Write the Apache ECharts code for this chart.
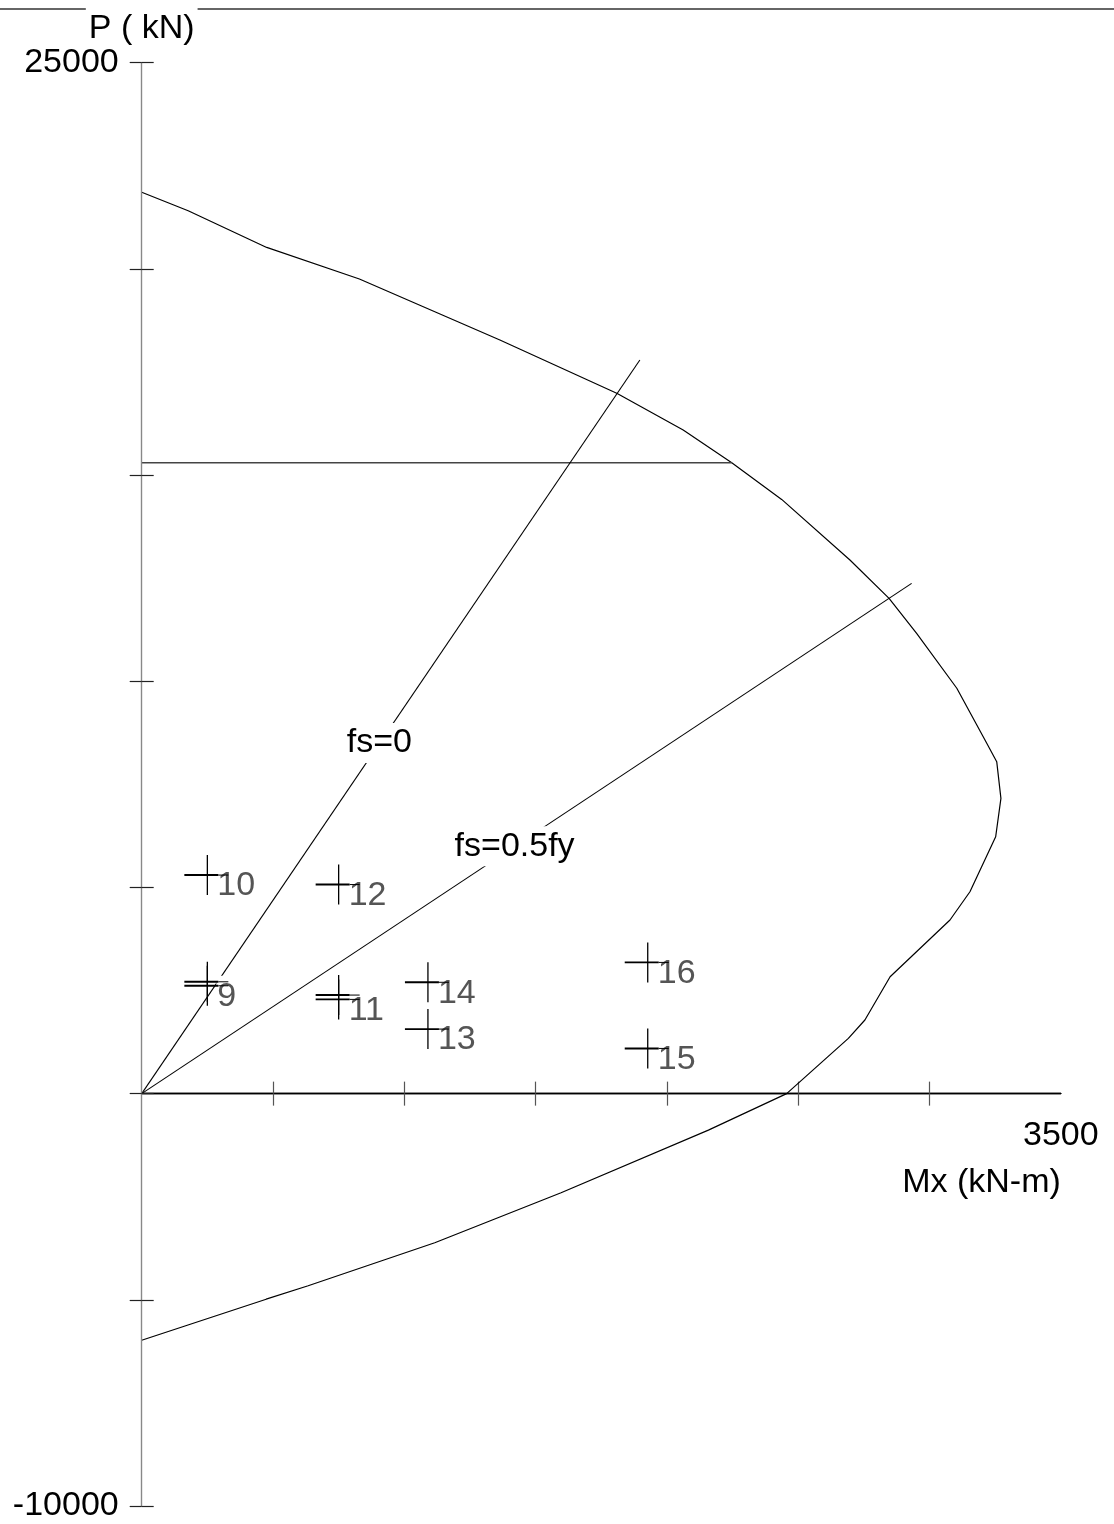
<!DOCTYPE html>
<html>
<head>
<meta charset="utf-8">
<script src="https://cdn.jsdelivr.net/npm/echarts@6/dist/echarts.min.js"></script>
<style>
  html, body { margin: 0; padding: 0; background: #fff; }
  #chart { width: 1114px; height: 1524px; }
</style>
</head>
<body>
<div id="chart"></div>
<script>
// Column P-M interaction diagram: axial load P (kN) against moment Mx (kN-m)

const curveM = [0, 177, 476, 829, 1364, 1809, 2062, 2247, 2437, 2697, 2846, 2951, 3104, 3218, 3256, 3272, 3252, 3154, 3078, 2850, 2754, 2691, 2456, 2158, 1597, 1116, 634, 474, 0];
const curveP = [21860, 21410, 20520, 19755, 18275, 16985, 16095, 15300, 14410, 12940, 12010, 11160, 9830, 8495, 8050, 7160, 6230, 4895, 4210, 2835, 1785, 1340, 0, -885, -2405, -3615, -4660, -4985, -5980];

// Maximum axial load cut-off
const capM = [0, 2247];
const capP = [15300, 15300];

// Steel stress reference lines
const fs0M = [0, 1897];
const fs0P = [0, 17790];
const fsHalfM = [0, 2932];
const fsHalfP = [0, 12374];
const fsLabels = ['fs=0', 'fs=0.5fy'];
const fsLabelM = [905, 1420];
const fsLabelP = [8500, 6000];

// Load combinations (blank name = second case sharing the same label)
const loadNames = ['9', '', '10', '11', '', '12', '13', '14', '15', '16'];
const loadM = [250, 250, 250, 750, 750, 750, 1090, 1090, 1927, 1927];
const loadP = [2615, 2712, 5300, 2285, 2390, 5070, 1565, 2700, 1096, 3182];

// Axis ranges, ticks and labels
const mRange = [0, 3500];
const pRange = [-10000, 25000];
const mTicks = [500, 1000, 1500, 2000, 2500, 3000];
const mTickLabels = [3500];
const pTicks = [-10000, -5000, 0, 5000, 10000, 15000, 20000, 25000];
const pTickLabels = [-10000, 25000];

const FONT = '"Liberation Sans", Arial, Helvetica, sans-serif';
const zip = (a, b) => a.map((v, i) => [v, b[i]]);

// plot area
const GRID = { left: 141.7, right: 53.2, top: 62.7, bottom: 18 };
const plotHeight = 1524 - GRID.top - GRID.bottom;
// lift for the labelled M axis so that it sits on the P = 0 line
const zeroLift = -plotHeight * (0 - pRange[0]) / (pRange[1] - pRange[0]);

const chart = echarts.init(document.getElementById('chart'), null, { renderer: 'canvas' });

const xBase = { type: 'value', min: mRange[0], max: mRange[1], interval: 500, splitLine: { show: false } };
const yBase = { type: 'value', min: pRange[0], max: pRange[1], interval: 5000, splitLine: { show: false } };

const option = {
  animation: false,
  backgroundColor: '#fff',
  grid: Object.assign({ containLabel: false, outerBoundsMode: 'none' }, GRID),
  graphic: [{
    type: 'line',
    z: 0,
    shape: { x1: 0, y1: 9, x2: 1114, y2: 9 },
    style: { stroke: '#666', lineWidth: 1.8 }
  }],
  xAxis: [
    Object.assign({}, xBase, {
      position: 'bottom', z: 1,
      axisLine: { onZero: true, onZeroAxisIndex: 0, lineStyle: { color: '#000', width: 1.3 } },
      axisTick: { show: true, inside: false, length: 12, customValues: mTicks, lineStyle: { color: '#555', width: 1.2 } },
      axisLabel: { show: false }
    }),
    Object.assign({}, xBase, {
      position: 'bottom', z: 1,
      axisLine: { onZero: true, onZeroAxisIndex: 0, lineStyle: { color: '#000', width: 1.3 } },
      axisTick: { show: true, inside: true, length: 12, customValues: mTicks, lineStyle: { color: '#555', width: 1.2 } },
      axisLabel: { show: false },
      name: 'Mx (kN-m)', nameLocation: 'end', nameGap: 0, nameMoveOverlap: false,
      nameTextStyle: { fontSize: 34, color: '#000', fontFamily: FONT, align: 'right', verticalAlign: 'top', padding: [72, 0, 0, 0] }
    }),
    Object.assign({}, xBase, {
      position: 'bottom', offset: zeroLift, z: 1,
      axisLine: { show: false, onZero: false },
      axisTick: { show: false },
      axisLabel: {
        show: true, showMaxLabel: true, showMinLabel: true, hideOverlap: false,
        margin: 25, fontSize: 34, color: '#000', fontFamily: FONT,
        formatter: function (v) { return mTickLabels.indexOf(v) >= 0 ? String(v) : ''; }
      }
    })
  ],
  yAxis: [
    Object.assign({}, yBase, {
      position: 'left', z: 3,
      axisLine: { show: true, lineStyle: { color: '#888', width: 1.2 } },
      axisTick: { show: true, inside: false, length: 12, customValues: pTicks, lineStyle: { color: '#222', width: 1.2 } },
      axisLabel: {
        show: true, showMaxLabel: true, showMinLabel: true, hideOverlap: false,
        margin: 23, fontSize: 34, color: '#000', fontFamily: FONT,
        formatter: function (v) { return pTickLabels.indexOf(v) >= 0 ? String(v) : ''; }
      }
    }),
    Object.assign({}, yBase, {
      position: 'left', z: 3,
      axisLine: { show: true, lineStyle: { color: '#888', width: 1.2 } },
      axisTick: { show: true, inside: true, length: 12, customValues: pTicks, lineStyle: { color: '#222', width: 1.2 } },
      axisLabel: { show: false },
      name: 'P ( kN)', nameLocation: 'end', nameGap: 15, nameMoveOverlap: false,
      nameTextStyle: { fontSize: 34, color: '#000', fontFamily: FONT, align: 'center', backgroundColor: '#fff', padding: [6, 3, 2, 3] }
    })
  ],
  series: [
    {
      name: 'envelope', type: 'line', z: 2, symbol: 'none', silent: true,
      data: zip(curveM, curveP),
      lineStyle: { color: '#000', width: 1.2 }
    },
    {
      name: 'cap', type: 'line', z: 2, symbol: 'none', silent: true,
      data: zip(capM, capP),
      lineStyle: { color: '#444', width: 1.6 }
    },
    {
      name: 'fs=0', type: 'line', z: 2, symbol: 'none', silent: true,
      data: zip(fs0M, fs0P),
      lineStyle: { color: '#000', width: 1.1 }
    },
    {
      name: 'fs=0.5fy', type: 'line', z: 2, symbol: 'none', silent: true,
      data: zip(fsHalfM, fsHalfP),
      lineStyle: { color: '#000', width: 1.1 }
    },
    {
      name: 'fs labels', type: 'custom', z: 4, silent: true,
      data: zip(fsLabelM, fsLabelP),
      renderItem: function (params, api) {
        const c = api.coord([api.value(0), api.value(1)]);
        return {
          type: 'text', x: c[0], y: c[1],
          style: {
            text: fsLabels[params.dataIndex], fill: '#000',
            fontSize: 34, fontFamily: FONT, align: 'center', verticalAlign: 'middle',
            backgroundColor: '#fff', padding: [3, 3]
          }
        };
      }
    },
    {
      name: 'loads', type: 'custom', z: 5, silent: true,
      data: zip(loadM, loadP),
      renderItem: function (params, api) {
        const c = api.coord([api.value(0), api.value(1)]);
        const children = [
          { type: 'line', z2: 10, shape: { x1: c[0], y1: c[1] - 20, x2: c[0], y2: c[1] + 20 }, style: { stroke: '#000', lineWidth: 1.3 } },
          { type: 'line', z2: 10, shape: { x1: c[0] - 23, y1: c[1], x2: c[0] + 11, y2: c[1] }, style: { stroke: '#000', lineWidth: 1.9 } },
          { type: 'line', z2: 10, shape: { x1: c[0] + 11, y1: c[1], x2: c[0] + 21, y2: c[1] }, style: { stroke: '#000', lineWidth: 1 } }
        ];
        const name = loadNames[params.dataIndex];
        if (name) {
          children.push({
            type: 'text', z2: 1, x: c[0] + 9, y: c[1] + 11,
            style: {
              text: name, fill: '#555', fontSize: 34, fontFamily: FONT,
              align: 'left', verticalAlign: 'middle', backgroundColor: '#fff', padding: [5, 1, 3, 1]
            }
          });
        }
        return { type: 'group', children: children };
      }
    }
  ]
};

chart.setOption(option);
</script>
</body>
</html>
